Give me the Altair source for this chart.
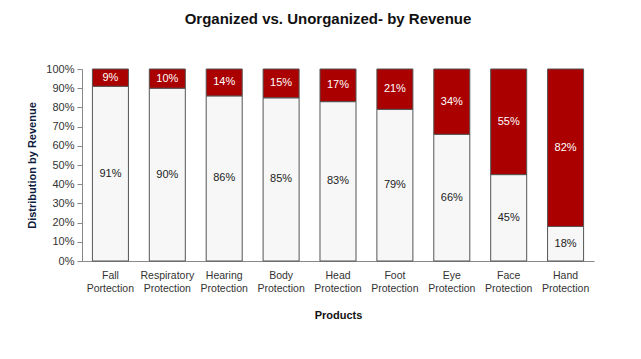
import altair as alt
import pandas as pd

categories = ["Fall|Portection", "Respiratory|Protection", "Hearing|Protection",
              "Body|Protection", "Head|Protection", "Foot|Protection",
              "Eye|Protection", "Face|Protection", "Hand|Protection"]
organized = [91, 90, 86, 85, 83, 79, 66, 45, 18]
unorganized = [9, 10, 14, 15, 17, 21, 34, 55, 82]
y_ticks = [0, 10, 20, 30, 40, 50, 60, 70, 80, 90, 100]

rows = []
for c, o, u in zip(categories, organized, unorganized):
    rows.append({"cat": c, "seg": "Organized", "val": o, "y0": 0, "y1": o})
    rows.append({"cat": c, "seg": "Unorganized", "val": u, "y0": o, "y1": o + u})
df = pd.DataFrame(rows)
df["mid"] = (df["y0"] + df["y1"]) / 2
df["lbl"] = df["val"].astype(str) + "%"

FONT = "Liberation Sans"

x_scale = alt.Scale(paddingInner=0.367, paddingOuter=0.183)
y_scale = alt.Scale(domain=[0, 100], nice=False)

x_axis = alt.Axis(labelAngle=0, labelExpr="split(datum.label, '|')",
                  ticks=False, domainColor="#888", labelColor="#333",
                  labelFontSize=10.5, labelPadding=9, labelLineHeight=13,
                  labelOverlap=False,
                  titleFontSize=11, titleFontWeight="bold", titleColor="#111",
                  titlePadding=16, labelFont=FONT, titleFont=FONT)
y_axis = alt.Axis(values=y_ticks, labelExpr="datum.value + '%'",
                  grid=False, domainColor="#888", tickColor="#888", tickSize=5,
                  labelColor="#333", labelFontSize=11, labelPadding=3,
                  labelOverlap=False, labelFlush=False,
                  titleFontSize=11, titleFontWeight="bold", titleColor="#0f1b3d",
                  titlePadding=8, labelFont=FONT, titleFont=FONT)

bars = alt.Chart(df).mark_bar(stroke="#555", strokeWidth=1).encode(
    x=alt.X("cat:N", sort=categories, title="Products", scale=x_scale, axis=x_axis),
    y=alt.Y("y0:Q", scale=y_scale, title="Distribution by Revenue", axis=y_axis),
    y2="y1:Q",
    color=alt.Color("seg:N", scale=alt.Scale(domain=["Organized", "Unorganized"],
                                             range=["#f7f7f7", "#aa0000"]), legend=None),
)

text = alt.Chart(df).mark_text(fontSize=11, font=FONT).encode(
    x=alt.X("cat:N", sort=categories, title="Products", scale=x_scale, axis=x_axis),
    y=alt.Y("mid:Q", scale=y_scale, title="Distribution by Revenue", axis=y_axis),
    text="lbl:N",
    color=alt.Color("seg:N", scale=alt.Scale(domain=["Organized", "Unorganized"],
                                             range=["#222222", "#ffffff"]), legend=None),
)

chart = alt.layer(bars, text).resolve_scale(color="independent").properties(
    width=512, height=192,
    title=alt.TitleParams("Organized vs. Unorganized- by Revenue", fontSize=15,
                          font=FONT, fontWeight="bold", color="#111", anchor="middle",
                          offset=36, dx=-10),
    autosize=alt.AutoSizeParams(type="none"),
    padding={"left": 74, "top": 61, "right": 39, "bottom": 90},
).configure(background="white").configure_view(stroke=None)

chart.save("out.html", embed_options={"renderer": "svg", "actions": False})
